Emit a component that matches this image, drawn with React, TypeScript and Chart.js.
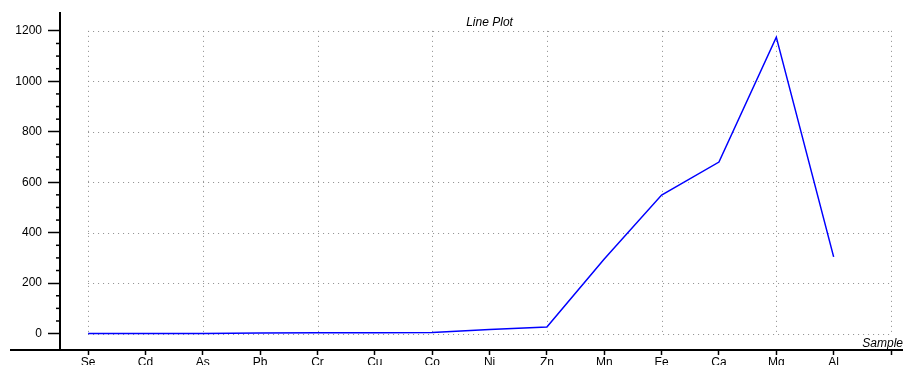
import React, { useEffect, useRef } from 'react';
import { Chart, registerables } from 'chart.js';

Chart.register(...registerables);

// Samples along the horizontal axis and the measured amount for each
const categories = ['Se', 'Cd', 'As', 'Pb', 'Cr', 'Cu', 'Co', 'Ni', 'Zn', 'Mn', 'Fe', 'Ca', 'Mg', 'Al'];
const values = [0, 0, 0, 2, 3, 3, 4, 16, 26, 296, 549, 680, 1175, 304];
const yTicks = [0, 200, 400, 600, 800, 1000, 1200];
const yMinorStep = 50;
const chartTitle = 'Line Plot';
const xTitle = 'Sample';

const FONT = '"Liberation Sans", Arial, sans-serif';

// Dotted grid box, extended axis line, minor ticks and captions
const framePlugin = {
  id: 'plotFrame',
  beforeDatasetsDraw(chart: any) {
    const { ctx, scales } = chart;
    const x = scales.x;
    const y = scales.y;
    const left = x.getPixelForValue(0);
    const right = x.getPixelForValue(categories.length);
    const bottom = y.getPixelForValue(yTicks[0]);
    const top = y.getPixelForValue(yTicks[yTicks.length - 1]);
    ctx.save();
    ctx.strokeStyle = '#8c8c8c';
    ctx.lineWidth = 1;
    ctx.setLineDash([1, 4]);
    for (const v of yTicks) {
      const py = Math.round(y.getPixelForValue(v)) + 0.5;
      ctx.beginPath();
      ctx.moveTo(left, py);
      ctx.lineTo(right, py);
      ctx.stroke();
    }
    for (let i = 0; i <= categories.length; i += 2) {
      const px = Math.round(x.getPixelForValue(i)) + 0.5;
      ctx.beginPath();
      ctx.moveTo(px, top);
      ctx.lineTo(px, bottom);
      ctx.stroke();
    }
    ctx.restore();
  },
  afterDraw(chart: any) {
    const { ctx, scales, chartArea } = chart;
    const x = scales.x;
    const y = scales.y;
    ctx.save();
    // horizontal axis line running across the whole canvas
    ctx.strokeStyle = '#000';
    ctx.lineWidth = 2;
    ctx.beginPath();
    ctx.moveTo(chartArea.left - 50, chartArea.bottom);
    ctx.lineTo(chart.width, chartArea.bottom);
    ctx.stroke();

    // minor ticks on the value axis
    ctx.lineWidth = 1.5;
    const maxV = yTicks[yTicks.length - 1];
    for (let v = yTicks[0] + yMinorStep; v < maxV; v += yMinorStep) {
      if (v % 200 === 0) continue;
      const py = y.getPixelForValue(v);
      ctx.beginPath();
      ctx.moveTo(chartArea.left - 4, py);
      ctx.lineTo(chartArea.left, py);
      ctx.stroke();
    }

    // captions
    ctx.fillStyle = '#000';
    ctx.font = `italic 12px ${FONT}`;
    ctx.textAlign = 'center';
    ctx.textBaseline = 'alphabetic';
    ctx.fillText(chartTitle, x.getPixelForValue(categories.length / 2), 26);
    ctx.textAlign = 'right';
    ctx.fillText(xTitle, chart.width, chartArea.bottom - 3);
    ctx.restore();
  },
};

export default function App() {
  const canvasRef = useRef<HTMLCanvasElement | null>(null);

  useEffect(() => {
    const canvas = canvasRef.current;
    if (!canvas) return;
    const points = values.map((v, i) => ({ x: i, y: v }));
    const chart = new Chart(canvas, {
      type: 'line',
      data: {
        datasets: [
          {
            data: points,
            borderColor: '#0000ff',
            borderWidth: 1.5,
            pointRadius: 0,
            fill: false,
            tension: 0,
          },
        ],
      },
      options: {
        animation: false,
        responsive: false,
        devicePixelRatio: 1,
        layout: { padding: { top: 13, right: 12, left: 0, bottom: 0 } },
        plugins: {
          legend: { display: false },
          tooltip: { enabled: false },
          title: { display: false },
        },
        scales: {
          x: {
            type: 'linear',
            min: -0.49,
            max: categories.length,
            afterBuildTicks: (scale: any) => {
              scale.ticks = Array.from({ length: categories.length + 1 }, (_, i) => ({ value: i }));
            },
            afterFit: (scale: any) => {
              scale.height = 15;
            },
            ticks: {
              autoSkip: false,
              maxRotation: 0,
              padding: 0,
              color: '#000',
              font: { family: FONT, size: 12 },
              callback: (v: any) => categories[v] ?? '',
            },
            grid: {
              display: true,
              drawOnChartArea: false,
              drawTicks: true,
              tickLength: 5,
              tickColor: '#000',
              tickWidth: 1.5,
            },
            border: { display: false },
          },
          y: {
            type: 'linear',
            min: -65,
            max: 1270,
            afterBuildTicks: (scale: any) => {
              scale.ticks = yTicks.map((v) => ({ value: v }));
            },
            afterFit: (scale: any) => {
              scale.width = 60;
            },
            ticks: {
              padding: 6,
              color: '#000',
              font: { family: FONT, size: 12 },
              callback: (v: any) => String(v),
            },
            grid: {
              display: true,
              drawOnChartArea: false,
              drawTicks: true,
              tickLength: 12,
              tickColor: '#000',
              tickWidth: 1.5,
            },
            border: { display: true, color: '#000', width: 2 },
          },
        },
      },
      plugins: [framePlugin],
    });
    return () => chart.destroy();
  }, []);

  return (
    <div style={{ position: 'fixed', left: 0, top: 0, width: 903, height: 365, background: '#fff' }}>
      <canvas ref={canvasRef} width={903} height={365} style={{ display: 'block' }} />
    </div>
  );
}
